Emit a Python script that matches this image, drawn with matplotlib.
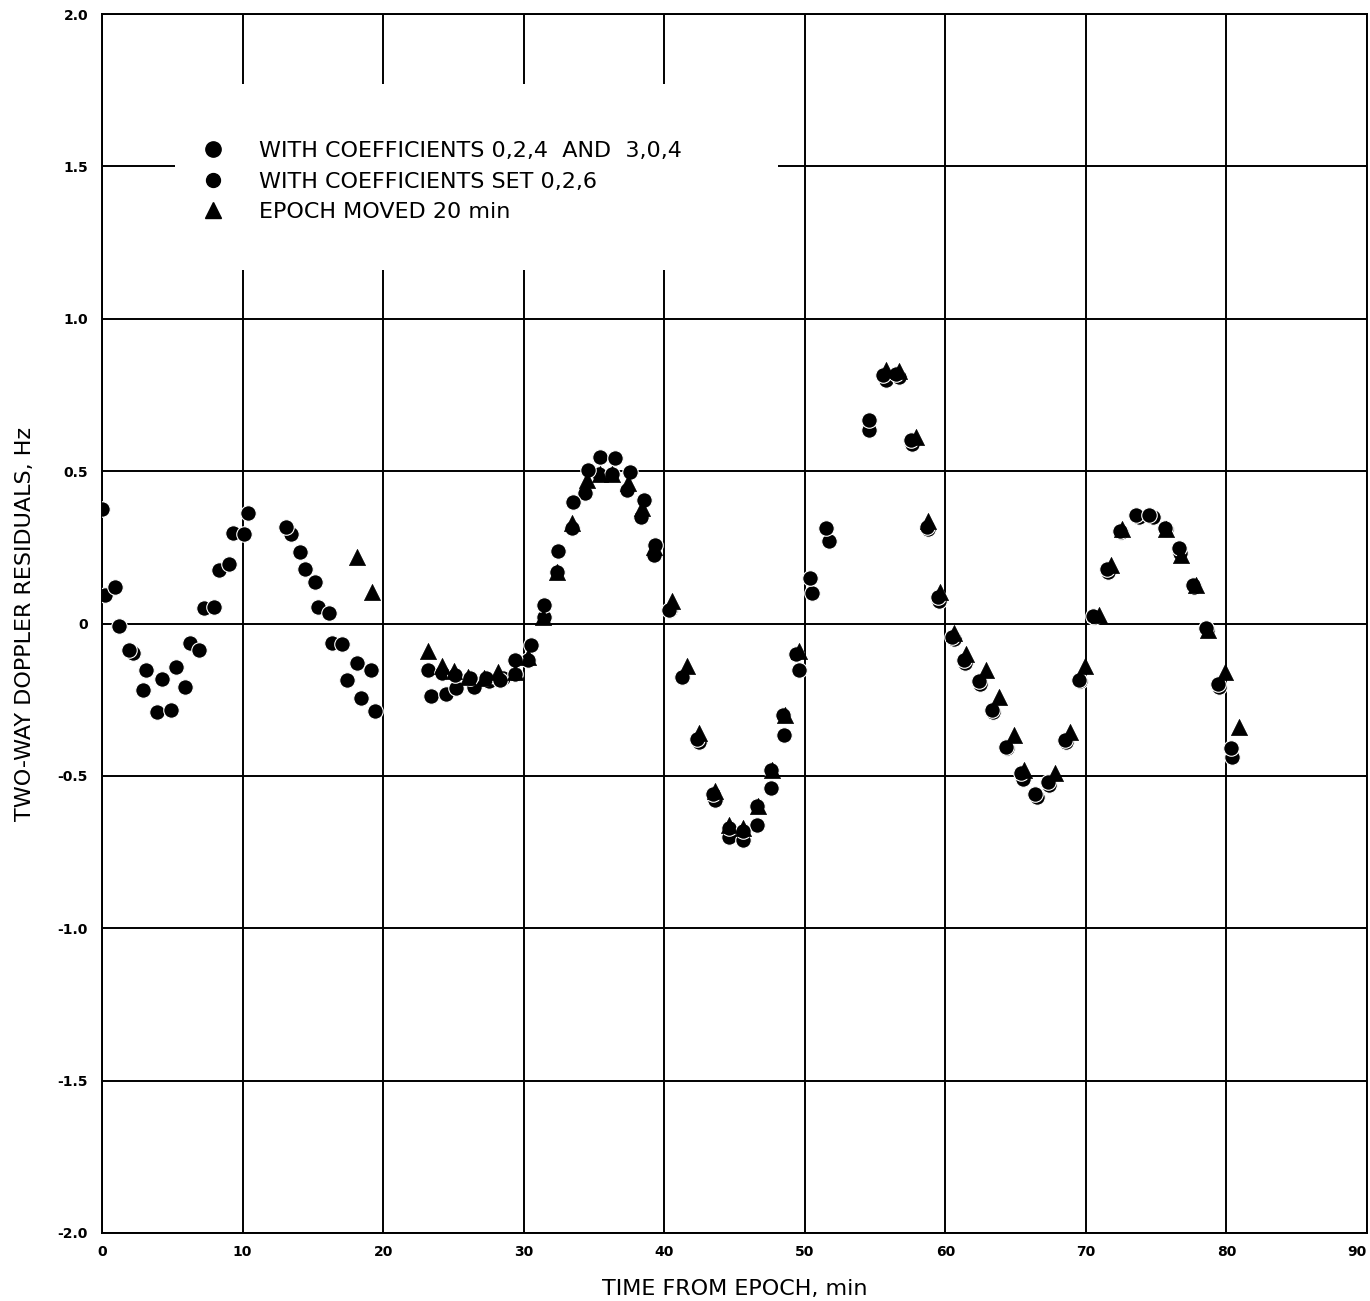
import matplotlib
matplotlib.use("Agg")
import matplotlib.pyplot as plt
from matplotlib.lines import Line2D
from matplotlib.patches import Rectangle

plt.rcParams['font.family'] = ['DejaVu Sans']
plt.rcParams['axes.unicode_minus'] = False

# ---- data ----
coef_024_x = [0, 0.9, 1.9, 2.9, 3.9, 4.9, 5.9, 6.9, 8.0, 9.06, 10.1,
              13.07, 14.07, 15.15, 16.14, 17.08, 18.17, 19.16,
              23.2, 24.2, 25.1, 26.2, 27.3, 28.3, 29.35, 30.5, 31.45, 32.47, 33.5, 34.55,
              35.44, 36.48, 37.54, 38.55, 39.37, 40.33, 41.27, 42.36,
              43.5, 44.6, 45.6, 46.6, 47.6, 48.45, 49.4,
              50.4, 51.5, 54.55, 55.55, 56.5, 57.55, 58.7, 59.5, 60.5, 61.3, 62.4, 63.3,
              64.3, 65.4, 66.4, 67.3, 68.5, 69.5, 70.5, 71.5, 72.45, 73.6, 74.5, 75.6,
              76.6, 77.6, 78.55, 79.4, 80.3]
coef_024_y = [0.375, 0.119, -0.087, -0.218, -0.289, -0.283, -0.209, -0.087, 0.055, 0.194, 0.294,
              0.318, 0.236, 0.135, 0.036, -0.067, -0.13, -0.152,
              -0.152, -0.163, -0.17, -0.18, -0.18, -0.185, -0.12, -0.07, 0.061, 0.238, 0.40, 0.504,
              0.546, 0.542, 0.498, 0.405, 0.258, 0.045, -0.174, -0.38,
              -0.56, -0.67, -0.68, -0.60, -0.48, -0.30, -0.10,
              0.149, 0.313, 0.668, 0.816, 0.82, 0.602, 0.318, 0.088, -0.043, -0.12, -0.19, -0.283,
              -0.404, -0.49, -0.56, -0.52, -0.382, -0.185, 0.023, 0.178, 0.302, 0.356, 0.356, 0.313,
              0.247, 0.127, -0.015, -0.2, -0.41]

coef_026_x = [0.2, 1.2, 2.2, 3.16, 4.27, 5.24, 6.23, 7.24, 8.35, 9.34, 10.4,
              13.47, 14.44, 15.39, 16.33, 17.4, 18.4, 19.4,
              23.4, 24.5, 25.2, 26.5, 27.5, 28.5, 29.4, 30.3, 31.45, 32.37, 33.44, 34.36,
              35.37, 36.3, 37.38, 38.32, 39.26, 40.4, 41.3, 42.45,
              43.6, 44.6, 45.6, 46.6, 47.6, 48.55, 49.6,
              50.5, 51.7, 54.6, 55.8, 56.7, 57.6, 58.75, 59.55, 60.6, 61.4, 62.5, 63.4,
              64.4, 65.5, 66.5, 67.4, 68.6, 69.6, 70.6, 71.6, 72.5, 73.8, 74.8, 75.7,
              76.7, 77.7, 78.6, 79.5, 80.4]
coef_026_y = [0.094, -0.007, -0.097, -0.152, -0.183, -0.143, -0.063, 0.05, 0.176, 0.296, 0.362,
              0.294, 0.179, 0.055, -0.065, -0.185, -0.245, -0.286,
              -0.238, -0.231, -0.212, -0.207, -0.19, -0.18, -0.165, -0.12, 0.02, 0.17, 0.315, 0.427,
              0.49, 0.49, 0.438, 0.351, 0.225, 0.045, -0.174, -0.39,
              -0.58, -0.70, -0.71, -0.66, -0.54, -0.365, -0.152,
              0.10, 0.27, 0.635, 0.80, 0.81, 0.59, 0.31, 0.075, -0.05, -0.13, -0.2, -0.29,
              -0.41, -0.51, -0.57, -0.53, -0.39, -0.19, 0.02, 0.17, 0.30, 0.35, 0.35, 0.31,
              0.23, 0.12, -0.02, -0.21, -0.437]

epoch_x = [18.17, 19.2, 23.2, 24.2, 25.06, 26.05, 27.2, 28.2, 29.35, 30.3, 31.4, 32.4, 33.45,
           34.5, 35.4, 36.3, 37.4, 38.4, 39.3, 40.55, 41.6, 42.5, 43.6, 44.6, 45.6, 46.7,
           47.7, 48.6, 49.6, 55.8, 56.7, 57.9, 58.8, 59.6, 60.6, 61.5, 62.9, 63.8, 64.9,
           65.6, 67.8, 68.9, 69.95, 70.9, 71.8, 72.6, 75.7, 76.8, 77.8, 78.7, 79.9, 80.9]
epoch_y = [0.217, 0.105, -0.09, -0.14, -0.155, -0.175, -0.18, -0.16, -0.16, -0.11, 0.02, 0.17, 0.33,
           0.47, 0.49, 0.49, 0.46, 0.38, 0.25, 0.075, -0.14, -0.36, -0.55, -0.66, -0.67, -0.60,
           -0.48, -0.30, -0.09, 0.832, 0.83, 0.613, 0.335, 0.105, -0.032, -0.10, -0.152, -0.24, -0.366,
           -0.48, -0.49, -0.355, -0.14, 0.028, 0.192, 0.31, 0.31, 0.225, 0.125, -0.02, -0.158, -0.338]

x_ticks = [0, 10, 20, 30, 40, 50, 60, 70, 80, 90]
x_ticklabels = ['0', '10', '20', '30', '40', '50', '60', '70', '80', '90']
y_ticks = [-2.0, -1.5, -1.0, -0.5, 0, 0.5, 1.0, 1.5, 2.0]
y_ticklabels = ['-2.0', '-1.5', '-1.0', '-0.5', '0', '0.5', '1.0', '1.5', '2.0']

labels = ['WITH COEFFICIENTS 0,2,4  AND  3,0,4',
          'WITH COEFFICIENTS SET 0,2,6',
          'EPOCH MOVED 20 min']

# ---- figure ----
W, H = 1370, 1301
fig = plt.figure(figsize=(W / 100, H / 100), dpi=100)
left, right, top, bottom = 102, 1367, 14, 1233
ax = fig.add_axes([left / W, 1 - bottom / H, (right - left) / W, (bottom - top) / H])

ax.set_xlim(0, 90)
ax.set_ylim(-2.0, 2.0)
ax.set_xticks(x_ticks)
ax.set_xticklabels(x_ticklabels, fontsize=10, fontweight='bold')
ax.get_xticklabels()[-1].set_horizontalalignment('right')
ax.set_yticks(y_ticks)
ax.set_yticklabels(y_ticklabels, fontsize=10, fontweight='bold')
ax.tick_params(axis='x', length=0, pad=9)
ax.tick_params(axis='y', length=0, pad=10)
ax.grid(True, color='black', linewidth=1.4)
ax.set_axisbelow(True)
for s in ax.spines.values():
    s.set_linewidth(1.4)
    s.set_color('black')

# white legend panel hiding the grid
ax.add_patch(Rectangle((0.0577, 0.79), 0.477, 0.1526, transform=ax.transAxes,
                       facecolor='white', edgecolor='none', zorder=1))

ms = 125
ax.scatter(coef_026_x, coef_026_y, marker='o', s=ms, c='black', edgecolors='white',
           linewidths=0.8, zorder=3)
ax.scatter(coef_024_x, coef_024_y, marker='o', s=ms, c='black', edgecolors='white',
           linewidths=0.8, zorder=4)
ax.scatter(epoch_x, epoch_y, marker='^', s=ms + 10, c='black', edgecolors='black',
           linewidths=0.5, zorder=5)

handles = [Line2D([], [], marker='o', linestyle='none', color='black', markersize=11),
           Line2D([], [], marker='o', linestyle='none', color='black', markersize=10),
           Line2D([], [], marker='^', linestyle='none', color='black', markersize=11)]
leg = ax.legend(handles, labels, loc='upper left', bbox_to_anchor=(0.0656, 0.905),
                frameon=False, fontsize=16, handletextpad=1.35, labelspacing=0.48,
                handlelength=1.5, borderpad=0)

ax.set_xlabel('TIME FROM EPOCH, min', fontsize=16, labelpad=14)
ax.set_ylabel('TWO-WAY DOPPLER RESIDUALS, Hz', fontsize=16, labelpad=16)

fig.savefig('out.png', dpi=100)
